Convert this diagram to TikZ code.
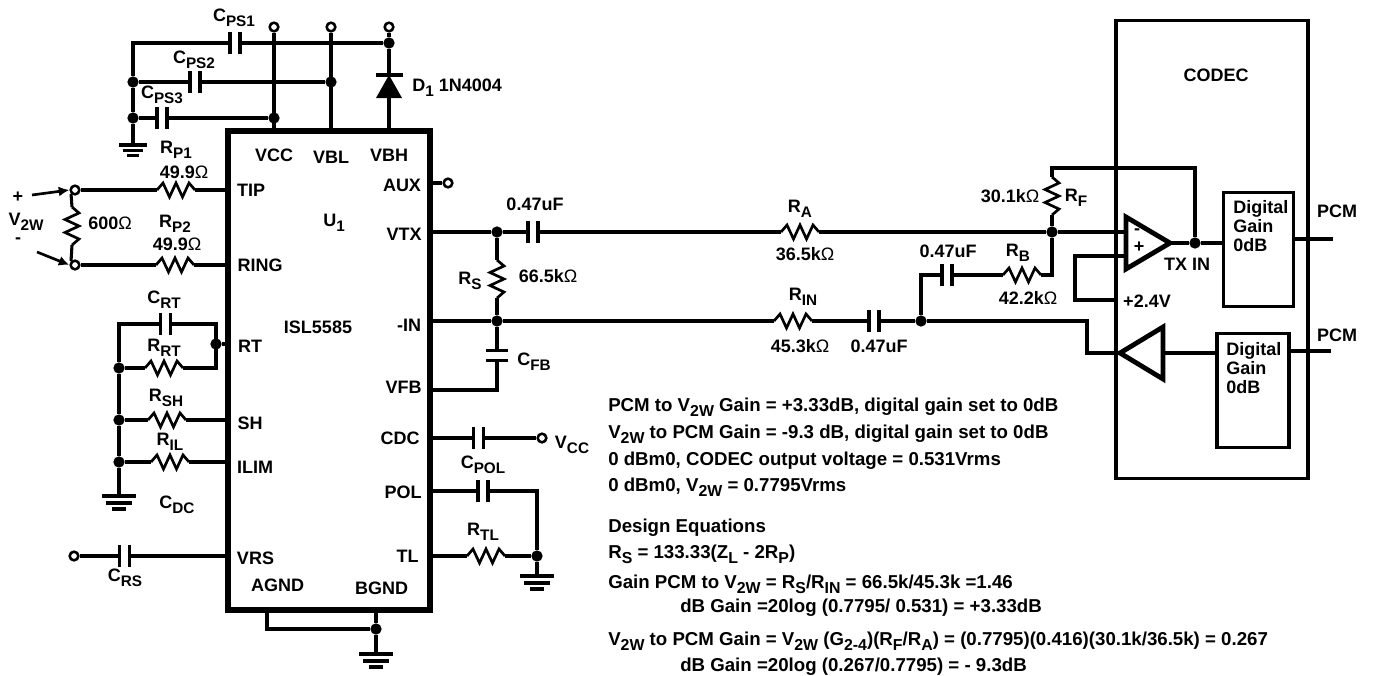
\documentclass[tikz,border=0pt]{standalone}
\usepackage{fontspec}
\setmainfont{Liberation Sans}
\usetikzlibrary{arrows.meta, positioning, calc}
\newcommand{\dn}[1]{\raisebox{-.27em}{\scalebox{.85}{#1}}}
\newcommand{\ohm}{{\mdseries Ω}}
\tikzset{
  wire/.style={line width=2.3pt},
  thinwire/.style={line width=2pt},
  term/.style={circle, draw, line width=1.9pt, fill=white, inner sep=0pt, minimum size=6.5pt},
  jdot/.style={circle, fill=black, inner sep=0pt, minimum size=8.5pt},
  lbl/.style={inner sep=0pt, font=\fontsize{13.5}{14.3}\selectfont\bfseries},
  note/.style={inner sep=0pt, anchor=west, font=\fontsize{14}{15}\selectfont\bfseries},
  resistor/.pic={
    \draw[thinwire, line join=miter] (-19,0) -- (-13,-7) -- (-6.5,7) -- (0,-7) -- (6.5,7) -- (13,-7) -- (19,0);
    \coordinate (-a) at (-19,0);
    \coordinate (-b) at (19,0);
  },
  capacitor/.pic={
    \draw[wire] (-5,-11) -- (-5,11);
    \draw[wire] (5,-11) -- (5,11);
    \coordinate (-a) at (-5,0);
    \coordinate (-b) at (5,0);
  },
  earth/.pic={
    \draw[wire] (-17,0) -- (17,0);
    \draw[wire] (-13,7) -- (13,7);
    \draw[wire] (-7,13) -- (7,13);
    \coordinate (-top) at (0,0);
  }
}

\begin{document}
\begin{tikzpicture}[x=0.75pt, y=-0.75pt]
    \useasboundingbox (0,0) rectangle (1373,675);

    % ISL5585 and CODEC outlines
    \node[draw, line width=4.4pt, minimum width=152pt, minimum height=359.5pt, inner sep=0pt] (chip) at (329,370.5) {};
    \node[draw, wire, minimum width=144pt, minimum height=343pt, inner sep=0pt] (codec) at (1212,249.5) {};
    \node[draw, wire, minimum width=52pt, minimum height=85pt, inner sep=0pt] (dgtx) at (1258.5,249.5) {};
    \node[draw, wire, minimum width=54pt, minimum height=85pt, inner sep=0pt] (dgrx) at (1253,390.5) {};

    % chip pins
    \coordinate (pvcc) at (274,131);
    \coordinate (pvbl) at (331,131);
    \coordinate (pvbh) at (389,131);
    \coordinate (ptip) at (228,190);
    \coordinate (pring) at (228,265);
    \coordinate (prt) at (228,344);
    \coordinate (psh) at (228,420);
    \coordinate (pilim) at (228,462);
    \coordinate (pvrs) at (228,556);
    \coordinate (paux) at (431,183);
    \coordinate (pvtx) at (431,232);
    \coordinate (pin) at (431,321);
    \coordinate (pvfb) at (431,390);
    \coordinate (pcdc) at (431,438);
    \coordinate (ppol) at (427,491);
    \coordinate (ptl) at (427,556);
    \coordinate (pagnd) at (267,610);
    \coordinate (pbgnd) at (376,610);

    % supply side
    \node[term] (tvcc) at (274,27) {};
    \node[term] (tvbl) at (331,27) {};
    \node[term] (tvbh) at (389,27) {};
    \node[jdot] (jvbh) at (389,43) {};
    \node[jdot] (jvbl) at (331,82) {};
    \node[jdot] (jvcc) at (274,118) {};
    \node[jdot] (jg2) at (133,82) {};
    \node[jdot] (jg3) at (133,118) {};
    \coordinate (g1) at (133,43);
    \pic (cps1) at (235,43) {capacitor};
    \pic (cps2) at (195,82) {capacitor};
    \pic (cps3) at (162,118) {capacitor};
    \pic[scale=.8] (gnda) at (133,145) {earth};
    \draw[wire] (tvcc) -- (pvcc);
    \draw[wire] (tvbl) -- (pvbl);
    \draw[wire] (tvbh) -- (jvbh);
    \draw[wire] (jvbh) -- (cps1-b);
    \draw[wire] (cps1-a) -- (g1) -- (jg2) -- (jg3) -- (gnda-top);
    \draw[wire] (jg2) -- (cps2-a);
    \draw[wire] (cps2-b) -- (jvbl);
    \draw[wire] (jg3) -- (cps3-a);
    \draw[wire] (cps3-b) -- (jvcc);
    % diode
    \coordinate (dtop) at (389,75);
    \coordinate (dbot) at (389,97);
    \draw[wire] (jvbh) -- (dtop);
    \draw[wire] (dbot) -- (pvbh);
    \draw[wire] (376,75) -- (403,75);
    \fill (dtop) -- (402,98) -- (376,98) -- cycle;

    % line side
    \node[term] (ttip) at (75,190) {};
    \node[term] (tring) at (75,265) {};
    \pic (rp1) at (176,190) {resistor};
    \pic (rp2) at (175,265) {resistor};
    \pic[rotate=-90] (rl) at (72,226) {resistor};
    \coordinate (aa) at (32,195);
    \coordinate (ab) at (37,252);
    \draw[wire] (ttip) -- (rp1-a);
    \draw[wire] (rp1-b) -- (ptip);
    \draw[wire] (tring) -- (rp2-a);
    \draw[wire] (rp2-b) -- (pring);
    \draw[wire] (ttip.south west) -- (rl-a);
    \draw[wire] (rl-b) -- (tring.north west);
    \draw[thinwire, -{Latex[length=8pt, width=7.5pt]}] (aa) -- (ttip.west);
    \draw[thinwire, -{Latex[length=8pt, width=7.5pt]}] (ab) -- (tring.west);

    % RT, SH, ILIM
    \coordinate (crl) at (119,324);
    \coordinate (crr) at (216,324);
    \coordinate (rrr) at (216,368);
    \node[jdot] (jrt) at (216,344) {};
    \node[jdot] (jrrt) at (119,368) {};
    \node[jdot] (jsh) at (119,420) {};
    \node[jdot] (jil) at (119,462) {};
    \pic (crt) at (165.5,324) {capacitor};
    \pic (rrt) at (164,368) {resistor};
    \pic (rsh) at (167,420) {resistor};
    \pic (ril) at (170,462) {resistor};
    \pic (gndb) at (119,496) {earth};
    \draw[wire] (crt-a) -- (crl) -- (jrrt) -- (jsh) -- (jil) -- (gndb-top);
    \draw[wire] (crt-b) -- (crr) -- (rrr) -- (rrt-b);
    \draw[wire] (jrrt) -- (rrt-a);
    \draw[wire] (jrt) -- (prt);
    \draw[wire] (jsh) -- (rsh-a);
    \draw[wire] (rsh-b) -- (psh);
    \draw[wire] (jil) -- (ril-a);
    \draw[wire] (ril-b) -- (pilim);

    % VRS and bottom ground
    \node[term] (tvrs) at (74,556) {};
    \pic (crs) at (124.5,556) {capacitor};
    \draw[wire] (tvrs) -- (crs-a);
    \draw[wire] (crs-b) -- (pvrs);
    \node[jdot] (jbg) at (376,629) {};
    \pic (gndc) at (376,654) {earth};
    \draw[wire] (pagnd) |- (jbg);
    \draw[wire] (pbgnd) -- (jbg);
    \draw[wire] (jbg) -- (gndc-top);

    % AUX, CDC, POL, TL
    \node[term] (taux) at (448,183) {};
    \draw[wire] (paux) -- (taux);
    \node[term] (tcdc) at (542,438) {};
    \pic (cdc) at (478.5,438) {capacitor};
    \draw[wire] (pcdc) -- (cdc-a);
    \draw[wire] (cdc-b) -- (tcdc);
    \pic (cpol) at (483,491) {capacitor};
    \pic (rtl) at (486,556) {resistor};
    \node[jdot] (jtl) at (537,556) {};
    \pic (gndd) at (537,576) {earth};
    \coordinate (polc) at (537,491);
    \draw[wire] (ppol) -- (cpol-a);
    \draw[wire] (cpol-b) -- (polc) -- (jtl) -- (gndd-top);
    \draw[wire] (ptl) -- (rtl-a);
    \draw[wire] (rtl-b) -- (jtl);

    % VTX and -IN paths
    \node[jdot] (jvtx) at (497,232) {};
    \node[jdot] (jmin) at (497,321) {};
    \node[jdot] (jcod) at (921,321) {};
    \node[jdot] (jinv) at (1052,232) {};
    \coordinate (pamin) at (1126,232);
    \pic (c47a) at (533,232) {capacitor};
    \pic (ra) at (800,232) {resistor};
    \pic[rotate=-90] (rs) at (497,279) {resistor};
    \pic (rin) at (793,321) {resistor};
    \pic (c47b) at (874,321) {capacitor};
    \pic[rotate=-90] (cfb) at (497,355.5) {capacitor};
    \draw[wire] (pvtx) -- (jvtx);
    \draw[wire] (jvtx) -- (c47a-a);
    \draw[wire] (c47a-b) -- (ra-a);
    \draw[wire] (ra-b) -- (jinv);
    \draw[wire] (jinv) -- (pamin);
    \draw[wire] (jvtx) -- (rs-a);
    \draw[wire] (rs-b) -- (jmin);
    \draw[wire] (pin) -- (jmin);
    \draw[wire] (jmin) -- (rin-a);
    \draw[wire] (rin-b) -- (c47b-a);
    \draw[wire] (c47b-b) -- (jcod);
    \draw[wire] (jmin) -- (cfb-a);
    \draw[wire] (cfb-b) |- (pvfb);

    % feedback network
    \pic[rotate=-90] (rf) at (1052,196) {resistor};
    \pic (rb) at (1022,275) {resistor};
    \pic (c47c) at (947,275) {capacitor};
    \coordinate (rbc) at (1052,275);
    \coordinate (c47l) at (921,275);
    \coordinate (rft) at (1052,168);
    \coordinate (rfr) at (1195,168);
    \node[jdot] (jout) at (1195,243) {};
    \draw[wire] (jinv) -- (rf-b);
    \draw[wire] (rf-a) -- (rft) -- (rfr) -- (jout);
    \draw[wire] (jinv) -- (rbc) -- (rb-b);
    \draw[wire] (rb-a) -- (c47c-b);
    \draw[wire] (c47c-a) -- (c47l) -- (jcod);

    % amplifiers inside the CODEC
    \coordinate (txtip) at (1170,243);
    \coordinate (rxtip) at (1120,353);
    \coordinate (rxbase) at (1163,353);
    \draw[line width=3.6pt, line join=miter] (1126,217) -- (1126,269) -- (txtip) -- cycle;
    \draw[line width=3.6pt, line join=miter] (1163,327) -- (1163,379) -- (rxtip) -- cycle;
    \coordinate (dgtxw) at (dgtx.west |- txtip);
    \coordinate (dgrxw) at (dgrx.west |- rxbase);
    \draw[wire] (txtip) -- (jout);
    \draw[wire] (jout) -- (dgtxw);
    \draw[wire] (rxbase) -- (dgrxw);
    \coordinate (c1) at (1087,321);
    \coordinate (c2) at (1087,353);
    \draw[wire] (jcod) -- (c1) -- (c2) -- (rxtip);
    \coordinate (fb1) at (1125,256);
    \coordinate (fb2) at (1075,256);
    \coordinate (fb3) at (1075,300);
    \coordinate (fb4) at (1116,300);
    \draw[wire] (fb1) -- (fb2) -- (fb3) -- (fb4);
    \coordinate (pcma) at (1333,239);
    \coordinate (pcmb) at (1331,351);
    \draw[wire] (dgtx.east |- pcma) -- (pcma);
    \draw[wire] (dgrx.east |- pcmb) -- (pcmb);

    % labels
    \node[lbl] (lcps1) at (234,18) {C\dn{PS1}};
    \node[lbl] (lcps2) at (194,60) {C\dn{PS2}};
    \node[lbl] (lcps3) at (162,95) {C\dn{PS3}};
    \node[lbl, anchor=west] (ld1) at (412,88) {D\dn{1} 1N4004};
    \node[lbl] (lvcc) at (274,155) {VCC};
    \node[lbl] (lvbl) at (331,157) {VBL};
    \node[lbl] (lvbh) at (389,155) {VBH};
    \node[lbl] (ltip) at (251,190) {TIP};
    \node[lbl] (laux) at (402,185) {AUX};
    \node[lbl] (lu1) at (334,223) {U\dn{1}};
    \node[lbl] (lvtx) at (404,234) {VTX};
    \node[lbl] (lring) at (260,265) {RING};
    \node[lbl] (lisl) at (318,327) {ISL5585};
    \node[lbl] (lmin) at (409,325) {-IN};
    \node[lbl] (lrt) at (250,346) {RT};
    \node[lbl] (lvfb) at (403.5,387) {VFB};
    \node[lbl] (lsh) at (250,423) {SH};
    \node[lbl] (lcdc) at (400,438) {CDC};
    \node[lbl] (lilim) at (255,467) {ILIM};
    \node[lbl] (lpol) at (403,492) {POL};
    \node[lbl] (lvrs) at (255.5,558) {VRS};
    \node[lbl] (ltl) at (407.5,556) {TL};
    \node[lbl] (lagnd) at (277.5,585) {AGND};
    \node[lbl] (lbgnd) at (381.5,588) {BGND};
    \node[lbl] (lrp1) at (176,150) {R\dn{P1}};
    \node[lbl] (lr49a) at (184,172) {49.9\ohm};
    \node[lbl] (lrp2) at (175,224) {R\dn{P2}};
    \node[lbl] (lr49b) at (177,244) {49.9\ohm};
    \node[lbl] (lplus) at (18,197) {+};
    \node[lbl] (lv2w) at (26,222) {V\dn{2W}};
    \node[lbl] (lminus) at (18,241) {-};
    \node[lbl] (l600) at (110,223) {600\ohm};
    \node[lbl] (lcrt) at (164,300) {C\dn{RT}};
    \node[lbl] (lrrt) at (164,348) {R\dn{RT}};
    \node[lbl] (lrsh) at (166,398) {R\dn{SH}};
    \node[lbl] (lril) at (170,442) {R\dn{IL}};
    \node[lbl] (lcdca) at (177,505) {C\dn{DC}};
    \node[lbl] (lcrs) at (125,578) {C\dn{RS}};
    \node[lbl] (lvcca) at (572,445) {V\dn{CC}};
    \node[lbl] (lcpol) at (483,465) {C\dn{POL}};
    \node[lbl] (lrtl) at (483,532) {R\dn{TL}};
    \node[lbl] (lc47a) at (535,204) {0.47uF};
    \node[lbl] (lra) at (800,209) {R\dn{A}};
    \node[lbl] (l365) at (805,254) {36.5k\ohm};
    \node[lbl] (lrs) at (470,281) {R\dn{S}};
    \node[lbl] (l665) at (548,276) {66.5k\ohm};
    \node[lbl] (lrin) at (803,297) {R\dn{IN}};
    \node[lbl] (l453) at (800,346) {45.3k\ohm};
    \node[lbl] (lc47b) at (879,346) {0.47uF};
    \node[lbl] (lcfb) at (534,362) {C\dn{FB}};
    \node[lbl] (l301) at (1010,196) {30.1k\ohm};
    \node[lbl] (lrf) at (1076,198) {R\dn{F}};
    \node[lbl] (lc47c) at (948,251) {0.47uF};
    \node[lbl] (lrb) at (1018,253) {R\dn{B}};
    \node[lbl] (l422) at (1028,298) {42.2k\ohm};
    \node[lbl] (lcodec) at (1216,75) {CODEC};
    \node[lbl] (linv) at (1137,232) {-};
    \node[lbl] (lni) at (1139,247) {+};
    \node[lbl] (ltxin) at (1187,264) {TX IN};
    \node[lbl] (l24) at (1147,301) {+2.4V};
    \node[lbl] (lpcma) at (1337,211) {PCM};
    \node[lbl] (lpcmb) at (1337,335) {PCM};
    \node[lbl, anchor=north west, align=left] (ldga) at (1233,200) {Digital\\Gain\\0dB};
    \node[lbl, anchor=north west, align=left] (ldgb) at (1226,342) {Digital\\Gain\\0dB};

    % notes
    \node[note] (n1) at (608,407) {PCM to V\dn{2W} Gain = +3.33dB, digital gain set to 0dB};
    \node[note] (n2) at (608,434) {V\dn{2W} to PCM Gain = -9.3 dB, digital gain set to 0dB};
    \node[note] (n3) at (608,461) {0 dBm0, CODEC output voltage = 0.531Vrms};
    \node[note] (n4) at (608,487) {0 dBm0, V\dn{2W} = 0.7795Vrms};
    \node[note] (n5) at (608,528) {Design Equations};
    \node[note] (n6) at (608,554) {R\dn{S} = 133.33(Z\dn{L} - 2R\dn{P})};
    \node[note] (n7) at (608,584) {Gain PCM to V\dn{2W} = R\dn{S}/R\dn{IN} = 66.5k/45.3k =1.46};
    \node[note] (n8) at (680,608) {dB Gain =20log (0.7795/ 0.531) = +3.33dB};
    \node[note] (n9) at (608,641) {V\dn{2W} to PCM Gain = V\dn{2W} (G\dn{2-4})(R\dn{F}/R\dn{A}) = (0.7795)(0.416)(30.1k/36.5k) = 0.267};
    \node[note] (n10) at (680,667) {dB Gain =20log (0.267/0.7795) = - 9.3dB};
\end{tikzpicture}
\end{document}
